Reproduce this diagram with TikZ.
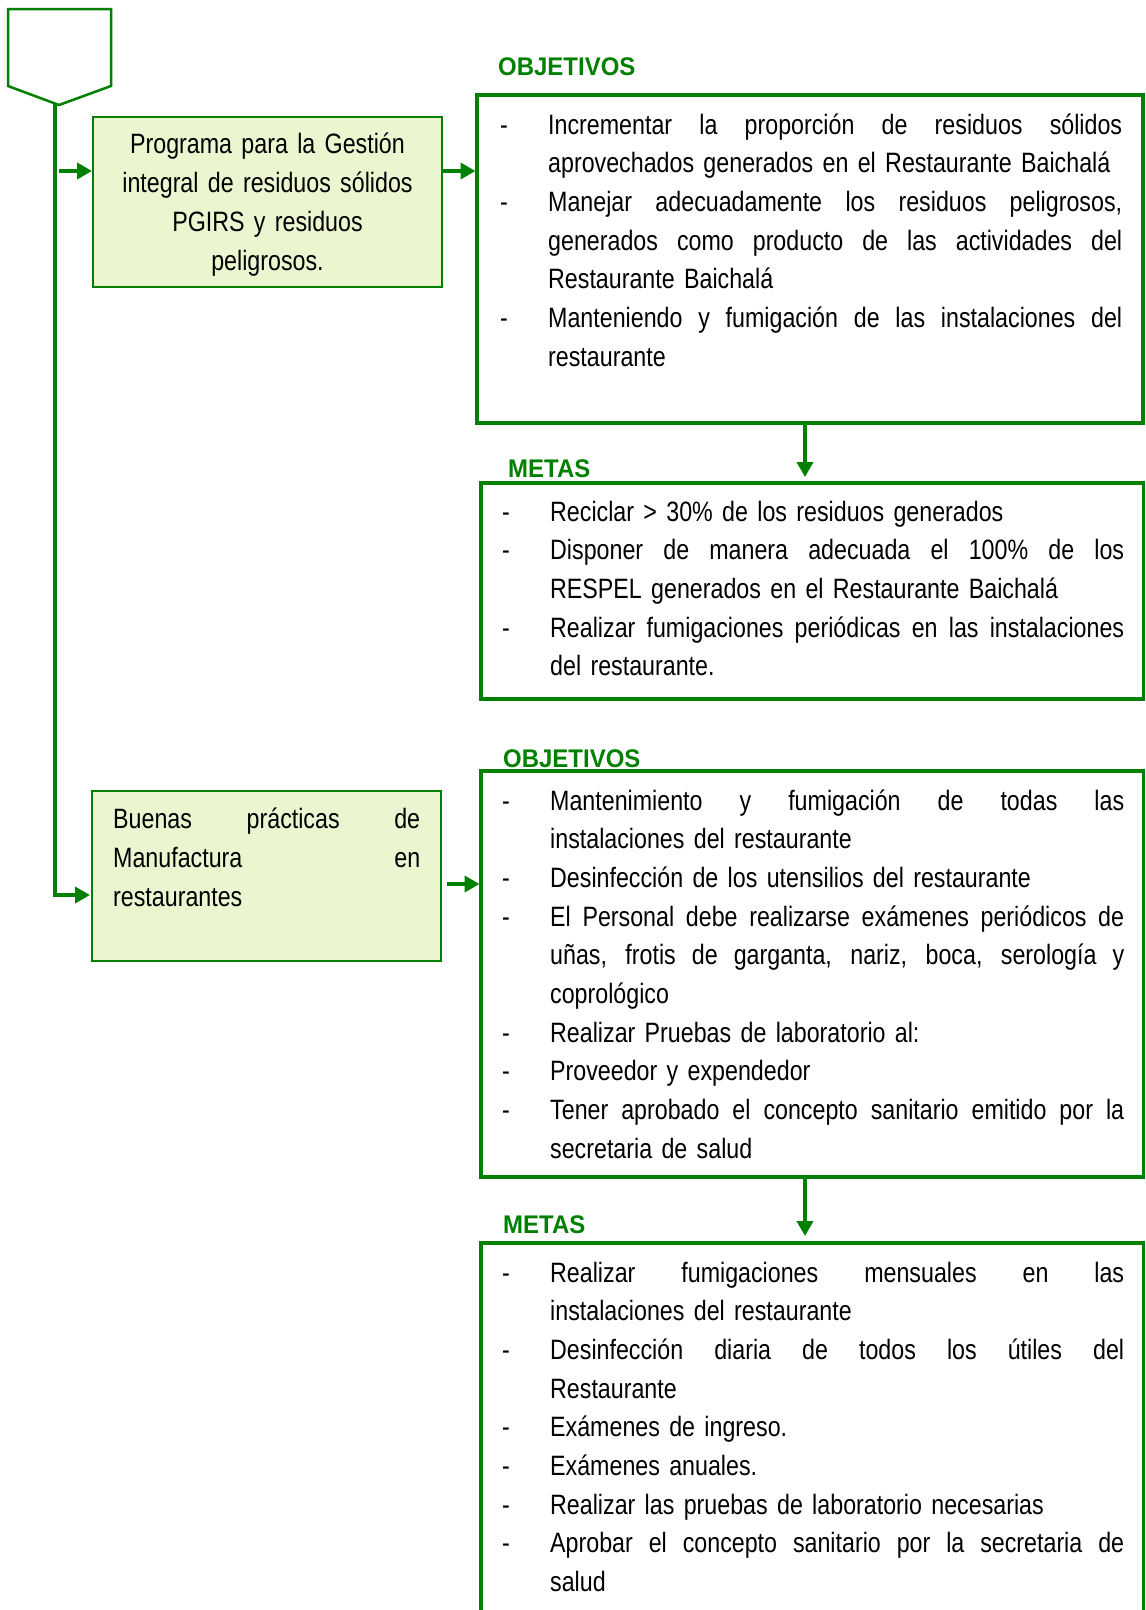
\documentclass[tikz,border=0pt]{standalone}
\usepackage{fontspec}
\setmainfont{Liberation Sans}[FakeStretch=0.83]
\newfontfamily\hdfont{Liberation Sans Bold}[FakeStretch=0.94]
\usetikzlibrary{arrows.meta}
\definecolor{gr}{RGB}{0,128,0}
\definecolor{lg}{RGB}{235,246,208}
\newcommand\blf{\noindent\hangindent=48pt\hangafter=1\makebox[48pt][l]{\rule{0pt}{27pt}-}}
\newcommand\bl{\par\blf}
\newcommand\jw[2]{{\spaceskip=\fontdimen2\font plus 1fil\relax\makebox[#1][s]{#2}}}
\newcommand\jl[1]{\jw{574pt}{#1}}
\begin{document}
\begin{tikzpicture}[x=1pt,y=-1pt,
 lbox/.style={draw=gr, fill=lg, line width=2pt, inner sep=0pt, outer sep=0pt, anchor=north west},
 rbox/.style={draw=gr, line width=3.5pt, inner sep=0pt, outer sep=0pt, anchor=north west},
 hdr/.style={text=gr, font={\hdfont\fontsize{25.5}{30}\selectfont}, inner sep=0pt, anchor=base west},
 txt/.style={inner sep=0pt, anchor=north west, text width=622pt, font={\fontsize{28}{38.67}\selectfont}},
 conn/.style={draw=gr, line width=3.6pt},
 arr/.style={conn, -{Triangle[length=15pt,width=16pt]}},
]
\useasboundingbox[fill=white] (0,0) rectangle (1146,1610);

% start symbol
\draw[draw=gr, line width=2.5pt, fill=white, line join=miter] (8,9) -- (111,9) -- (111,86) -- (59,105) -- (8,86) -- cycle;
\coordinate (tip) at (55,104);
\coordinate (a1) at (59,171);
\coordinate (j2) at (55,895);
\coordinate (a2) at (0,171);
\coordinate (a3) at (0,884);
\coordinate (d1) at (805,0);

% boxes
\node[lbox, minimum width=349pt, minimum height=170pt] (p1) at (93,117) {};
\node[lbox, minimum width=349pt, minimum height=170pt] (p2) at (92,791) {};
\node[rbox, minimum width=666pt, minimum height=328pt] (o1) at (477,95) {};
\node[rbox, minimum width=662.5pt, minimum height=216pt] (m1) at (481,483) {};
\node[rbox, minimum width=662.5pt, minimum height=406pt] (o2) at (481,771) {};
\node[rbox, minimum width=662.5pt, minimum height=420pt] (m2) at (481,1243) {};

% connectors
\draw[arr, line join=miter, shorten >=2pt] (tip) |- (p2.west |- j2);
\draw[arr, shorten >=1pt] (a1) -- (p1.west |- a1);
\draw[arr, shorten <=1pt, shorten >=1.5pt] (p1.east |- a2) -- (o1.west |- a2);
\draw[arr, shorten <=6pt, shorten >=1.5pt] (p2.east |- a3) -- (o2.west |- a3);
\draw[arr, shorten >=6pt] (o1.south -| d1) -- (m1.north -| d1);
\draw[arr, shorten >=7pt] (o2.south -| d1) -- (m2.north -| d1);

% headers
\node[hdr] (h1) at (498,75) {OBJETIVOS};
\node[hdr] (h2) at (508,477) {METAS};
\node[hdr] (h3) at (503,767) {OBJETIVOS};
\node[hdr] (h4) at (503,1233) {METAS};

% left texts
\node[inner sep=0pt, anchor=north, text width=340pt, align=center, font={\fontsize{28}{39}\selectfont}] (pt1) at (267.5,126)
 {\rule{0pt}{27pt}Programa para la Gestión\\ integral de residuos sólidos\\ PGIRS y residuos\\ peligrosos.};
\node[inner sep=0pt, anchor=north west, text width=307pt, font={\fontsize{28}{39}\selectfont}] (pt2) at (113,801)
 {\noindent\rule{0pt}{27pt}\jw{307pt}{Buenas prácticas de}\newline\jw{307pt}{Manufactura en}\newline restaurantes};

% right texts
\node[txt] (t1) at (500,107) {%
\blf\jl{Incrementar la proporción de residuos sólidos}\newline aprovechados generados en el Restaurante Baichalá
\bl\jl{Manejar adecuadamente los residuos peligrosos,}\newline\jl{generados como producto de las actividades del}\newline Restaurante Baichalá
\bl\jl{Manteniendo y fumigación de las instalaciones del}\newline restaurante\par};

\node[txt] (t2) at (502,494) {%
\blf Reciclar > 30\% de los residuos generados
\bl\jl{Disponer de manera adecuada el 100\% de los}\newline RESPEL generados en el Restaurante Baichalá
\bl\jl{Realizar fumigaciones periódicas en las instalaciones}\newline del restaurante.\par};

\node[txt] (t3) at (502,783) {%
\blf\jl{Mantenimiento y fumigación de todas las}\newline instalaciones del restaurante
\bl Desinfección de los utensilios del restaurante
\bl\jl{El Personal debe realizarse exámenes periódicos de}\newline\jl{uñas, frotis de garganta, nariz, boca, serología y}\newline coprológico
\bl Realizar Pruebas de laboratorio al:
\bl Proveedor y expendedor
\bl\jl{Tener aprobado el concepto sanitario emitido por la}\newline secretaria de salud\par};

\node[txt] (t4) at (502,1255) {%
\blf\jl{Realizar fumigaciones mensuales en las}\newline instalaciones del restaurante
\bl\jl{Desinfección diaria de todos los útiles del}\newline Restaurante
\bl Exámenes de ingreso.
\bl Exámenes anuales.
\bl Realizar las pruebas de laboratorio necesarias
\bl\jl{Aprobar el concepto sanitario por la secretaria de}\newline salud\par};
\end{tikzpicture}
\end{document}
